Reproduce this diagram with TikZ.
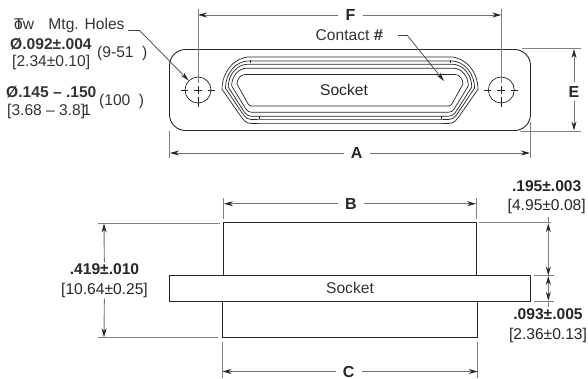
\documentclass[tikz,border=0pt]{standalone}
\usepackage{fontspec}
\setmainfont{Liberation Sans}
\usetikzlibrary{arrows.meta}
\tikzset{
	part/.style = {draw = black!85, line width = 0.9pt},
	thin part/.style = {draw = black!85, line width = 0.7pt},
	extline/.style = {draw = black!50, line width = 0.9pt},
	dimline/.style = {draw = black!55, line width = 0.9pt, -{Stealth[length = 9pt, width = 5pt, color = black!85]}},
	leader/.style = {draw = black!75, line width = 0.7pt, -{Stealth[length = 9pt, width = 4.5pt, color = black!85]}},
	letter/.style = {font = \fontsize{16}{18}\selectfont\bfseries, text = black!85, inner xsep = 7pt, inner ysep = 4pt},
	txt/.style = {font = \fontsize{15.6}{18}\selectfont, text = black!80, inner sep = 0pt, anchor = base west},
	stack/.style = {font = \fontsize{15.6}{19.5}\selectfont, text = black!85, align = center, inner sep = 1pt}
}
\begin{document}
\begin{tikzpicture}[x = 1pt, y = -1pt]
	\useasboundingbox (0, 0) rectangle (588, 378);
	% top view
	\draw[part, rounded corners = 16pt] (169.5, 49.5) rectangle (530.5, 130.5);
	\foreach \d in {0, 6.3, 10.3, 13.6, 17.6} {
		\pgfmathsetmacro{\T}{74.5 - \d}
		\pgfmathsetmacro{\Bt}{106 + \d}
		\pgfmathsetmacro{\Lx}{237 - 0.85*\d}
		\pgfmathsetmacro{\Ly}{84 + 0.3*\d}
		\pgfmathsetmacro{\Tx}{245 + 0.3*\d}
		\pgfmathsetmacro{\Bx}{255 + 0.2*\d}
		\pgfmathsetmacro{\Sx}{247 - 0.5*\d}
		\pgfmathsetmacro{\Sy}{102 + 0.6*\d}
		\pgfmathsetmacro{\Ex}{\Sx + (\Sx - \Lx)/(\Sy - \Ly)*(\Bt - \Sy)}
		\pgfmathsetmacro{\Ca}{\Tx - 0.55*(\Tx - \Lx)}
		\pgfmathsetmacro{\Cb}{\Ly - 0.55*(\Ly - \T)}
		\draw[thin part] (\Tx, \T) .. controls (\Ca, \T) and (\Lx, \Cb) .. (\Lx, \Ly)
			-- (\Sx, \Sy) .. controls (\Ex, \Bt) .. (\Bx, \Bt)
			-- (700 - \Bx, \Bt) .. controls (700 - \Ex, \Bt) .. (700 - \Sx, \Sy)
			-- (700 - \Lx, \Ly) .. controls (700 - \Lx, \Cb) and (700 - \Ca, \T) .. (700 - \Tx, \T) -- cycle;
	}
	\foreach \x/\y in {250/61.5, 450/61.5, 259/117.5, 441.5/117.5}
		\draw[thin part] (\x, \y - 1.5) -- (\x, \y + 1.5);
	\foreach \name/\x in {HoleL/198, HoleR/501.3} {
		\node (\name) at (\x, 90) [circle, thin part, minimum size = 26pt, inner sep = 0pt] {};
		\draw[thin part] (\x - 17, 90) -- (\x - 10, 90);
		\draw[thin part] (\x + 10, 90) -- (\x + 17, 90);
		\draw[thin part] (\x - 4, 90) -- (\x + 4, 90);
		\draw[thin part] (\x, 86) -- (\x, 94);
		\draw[thin part] (\x, 97) -- (\x, 107);
	}
	\node (SocketTop) at (344, 89.7) [stack] {Socket};
	% top view dimensions
	\draw[extline] (198, 9) -- (198, 83);
	\draw[extline] (501.3, 9) -- (501.3, 83);
	\draw[extline] (169.5, 131) -- (169.5, 158);
	\draw[extline] (530.5, 122) -- (530.5, 158);
	\draw[extline] (521.7, 48.5) -- (581, 48.5);
	\draw[extline] (520, 131) -- (581, 131);
	\coordinate (Fl) at (198, 15);
	\coordinate (Fr) at (501.3, 15);
	\coordinate (Al) at (170, 153);
	\coordinate (Ar) at (530, 153);
	\coordinate (Et) at (574, 49);
	\coordinate (Eb) at (574, 130.5);
	\node (F) at (350.5, 15) [letter] {F};
	\node (A) at (356.7, 153) [letter] {A};
	\node (E) at (574, 91.5) [letter] {E};
	\draw[dimline] (F) -- (Fl);
	\draw[dimline] (F) -- (Fr);
	\draw[dimline] (A) -- (Al);
	\draw[dimline] (A) -- (Ar);
	\draw[dimline] (E) -- (Et);
	\draw[dimline] (E) -- (Eb);
	% callouts
	\node (Holes) at (14, 29.3) [txt] {\rlap{T}ow\hspace{0.92em}Mtg. Holes};
	\node (Dia) at (10, 49) [txt] {\bfseries Ø.092±.004};
	\node (DiaMm) at (12, 66) [txt] {[2.34±0.10]};
	\node (Qty) at (97, 57.5) [txt] {(9-51\hspace{0.55em})};
	\node (Dib) at (6, 97.7) [txt] {\bfseries Ø.145 – .150};
	\node (DibMm) at (7, 115.7) [txt] {[3.68 – 3.8\rlap{\kern 1.5pt 1}]};
	\node (Qtyb) at (99, 105.7) [txt] {(100\hspace{0.55em})};
	\node (Contact) at (315.5, 40.7) [txt] {Contact \rlap{\#}\kern 0.5pt\#};
	\coordinate (HolesBend) at (139, 30);
	\coordinate (ContactBend) at (407, 35);
	\coordinate (ContactTip) at (444, 81);
	\draw[draw = black!75, line width = 0.7pt] (127.5, 30) -- (HolesBend);
	\draw[leader] (HolesBend) -- (HoleL);
	\draw[draw = black!75, line width = 0.7pt] (398, 35) -- (ContactBend);
	\draw[leader] (ContactBend) -- (ContactTip);
	% side view
	\draw[part] (223.5, 275.7) -- (223.5, 222.7) -- (476, 222.7) -- (476, 275.7);
	\draw[part] (222, 301) -- (222, 337) -- (477.7, 337) -- (477.7, 301);
	\node (Flange) at (350, 288.3) [rectangle, part, minimum width = 361pt, minimum height = 25.3pt, inner sep = 0pt,
		font = \fontsize{15.6}{18}\selectfont, text = black!80] {Socket};
	% side view dimensions
	\draw[extline] (223.5, 198) -- (223.5, 218.5);
	\draw[extline] (476, 198) -- (476, 218.5);
	\draw[extline] (222, 342) -- (222, 378);
	\draw[extline] (477.7, 342) -- (477.7, 378);
	\coordinate (Bl) at (224, 203.7);
	\coordinate (Br) at (476, 203.7);
	\coordinate (Cl) at (222.5, 371.5);
	\coordinate (Cr) at (477.7, 371.5);
	\node (B) at (351, 203.7) [letter] {B};
	\node (C) at (348.7, 371.5) [letter, inner ysep = 0pt] {C};
	\draw[dimline] (B) -- (Bl);
	\draw[dimline] (B) -- (Br);
	\draw[dimline] (C) -- (Cl);
	\draw[dimline] (C) -- (Cr);
	\draw[extline] (98, 223) -- (220, 223);
	\draw[extline] (98, 337.7) -- (218, 337.7);
	\coordinate (Ht) at (104, 223.5);
	\coordinate (Hb) at (104, 337.2);
	\node (Height) at (104.5, 280.5) [stack] {\textbf{.419±.010}\\{}[10.64±0.25]};
	\draw[dimline] (Height) -- (Ht);
	\draw[dimline] (Height) -- (Hb);
	\draw[extline] (479, 222.9) -- (551, 222.9);
	\draw[extline] (534, 275.7) -- (554, 275.7);
	\draw[extline] (534, 301) -- (554, 301);
	\coordinate (Ra) at (548.3, 216.7);
	\coordinate (Rb) at (548.3, 306.7);
	\coordinate (Rt) at (548.3, 223.2);
	\coordinate (Rm) at (548.3, 275.4);
	\coordinate (Rn) at (548.3, 276);
	\coordinate (Rd) at (548.3, 300.7);
	\draw[extline, {Stealth[length = 9pt, width = 5pt, color = black!85]}-{Stealth[length = 9pt, width = 5pt, color = black!85]}] (Rt) -- (Rm);
	\draw[extline, {Stealth[length = 9pt, width = 5pt, color = black!85]}-{Stealth[length = 9pt, width = 5pt, color = black!85]}] (Rn) -- (Rd);
	\draw[extline] (Ra) -- (Rt);
	\draw[extline] (Rd) -- (Rb);
	\node (Upper) at (546.7, 197) [stack] {\textbf{.195±.003}\\{}[4.95±0.08]};
	\node (Lower) at (548, 325.5) [stack] {\textbf{.093±.005}\\{}[2.36±0.13]};
\end{tikzpicture}
\end{document}
